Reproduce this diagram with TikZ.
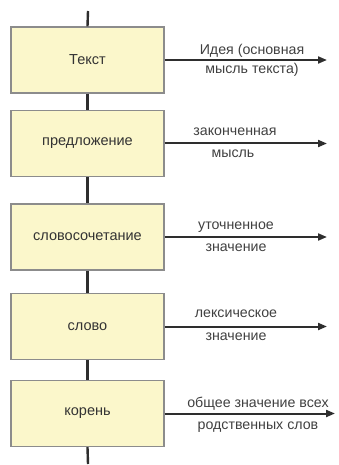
\documentclass[tikz,border=0pt]{standalone}
\usepackage{fontspec}
\setmainfont{Liberation Sans}
\usetikzlibrary{arrows.meta}
\definecolor{boxfill}{HTML}{FBF7CB}
\definecolor{boxline}{HTML}{8C8C8C}
\definecolor{conn}{HTML}{2E2E2E}
\begin{document}
\begin{tikzpicture}[x=1pt,y=-1pt,
  levelbox/.style={draw=boxline, fill=boxfill, line width=1.3pt, minimum width=153pt, minimum height=66pt, inner sep=0pt, font=\fontsize{14.5}{16}\selectfont, text=black!80},
  stem/.style={draw=conn, line width=2.4pt},
  outarrow/.style={draw=conn, line width=2pt, -{Triangle[length=9pt,width=7pt]}},
  lbl/.style={font=\fontsize{14.2}{16}\selectfont, text=black!75, inner sep=0pt}]
\useasboundingbox (0,0) rectangle (339,465);
\node[levelbox] (b1) at (87.5,60) {Текст};
\node[levelbox] (b2) at (87.5,143.5) {предложение};
\node[levelbox] (b3) at (87.5,237) {словосочетание};
\node[levelbox] (b4) at (87.5,326.5) {слово};
\node[levelbox] (b5) at (87.5,413.5) {корень};
\coordinate (top) at (88,11);
\coordinate (bot) at (88,464);
\coordinate (e1) at (327,60);
\coordinate (e2) at (327,143.5);
\coordinate (e3) at (327,237);
\coordinate (e4) at (327,326.5);
\coordinate (e5) at (335,413.5);
\draw[stem] (top) -- (b1.north);
\draw[stem] (b1.south) -- (b2.north);
\draw[stem] (b2.south) -- (b3.north);
\draw[stem] (b3.south) -- (b4.north);
\draw[stem] (b4.south) -- (b5.north);
\draw[stem] (b5.south) -- (bot);
\draw[outarrow] (b1.east) -- (e1);
\draw[outarrow] (b2.east) -- (e2);
\draw[outarrow] (b3.east) -- (e3);
\draw[outarrow] (b4.east) -- (e4);
\draw[outarrow] (b5.east) -- (e5);
\node[lbl] (l1a) at (252,51) {Идея (основная};
\node[lbl] (l1b) at (252,70) {мысль текста)};
\node[lbl] (l2a) at (235,132) {законченная};
\node[lbl] (l2b) at (233,154) {мысль};
\node[lbl] (l3a) at (236,227) {уточненное};
\node[lbl] (l3b) at (236,248) {значение};
\node[lbl] (l4a) at (236,314) {лексическое};
\node[lbl] (l4b) at (236,337) {значение};
\node[lbl] (l5a) at (258,404) {общее значение всех};
\node[lbl] (l5b) at (258,427) {родственных слов};
\end{tikzpicture}
\end{document}
